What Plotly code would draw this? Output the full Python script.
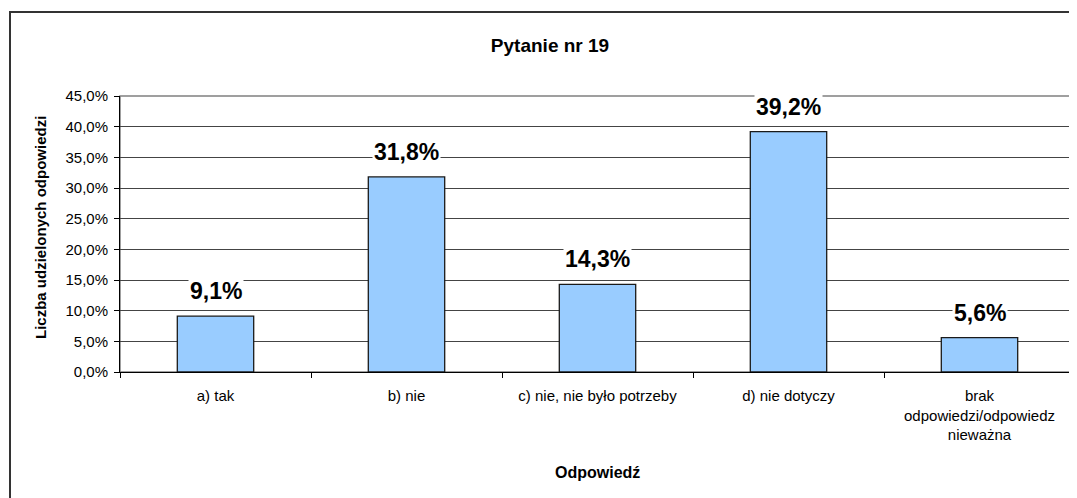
import plotly.graph_objects as go

categories = [
    "a) tak",
    "b) nie",
    "c) nie, nie było potrzeby",
    "d) nie dotyczy",
    "brak<br>odpowiedzi/odpowiedz<br>nieważna",
]
values = [0.091, 0.318, 0.143, 0.392, 0.056]

# the page puts the figure 8px in from the top-left corner
OFF = 8
W, H = 1077 - OFF, 498 - OFF
# plot area in page pixels
L, R, T, B = 120 - OFF, 1075 - OFF, 96 - OFF, 372 - OFF
pw, ph = R - L, B - T


def px_x(x):
    return (x - OFF - L) / pw


def px_y(y):
    return (B - (y - OFF)) / ph


FONT = "Arial, Liberation Sans"

fig = go.Figure()

fig.add_trace(
    go.Bar(
        x=categories,
        y=values,
        marker=dict(color="#99CCFF", line=dict(color="#1a1a1a", width=1.3)),
        showlegend=False,
        hoverinfo="skip",
    )
)

# data labels with white box, like the original
for c, v in zip(categories, values):
    fig.add_annotation(
        x=c, y=v, xref="x", yref="y",
        text=f"{v * 100:.1f}%".replace(".", ","),
        showarrow=False, yanchor="bottom", yshift=10,
        bgcolor="white", borderpad=1,
        font=dict(family=FONT, size=23, color="black", weight="bold"),
    )

fig.add_annotation(
    text="Liczba udzielonych odpowiedzi",
    xref="paper", yref="paper", x=px_x(40), y=px_y(228),
    textangle=-90, showarrow=False, xanchor="center", yanchor="middle",
    font=dict(family=FONT, size=15, color="black", weight="bold"),
)

fig.add_annotation(
    text="Odpowiedź",
    xref="paper", yref="paper", x=0.5, y=px_y(472),
    showarrow=False, xanchor="center", yanchor="middle",
    font=dict(family=FONT, size=16, color="black", weight="bold"),
)

# plot area frame (gray) and outer chart frame
fig.add_shape(type="rect", xref="paper", yref="paper", x0=0, x1=1, y0=0, y1=1,
              line=dict(color="#808080", width=1.5), layer="below")
fig.add_shape(type="rect", xref="paper", yref="paper",
              x0=px_x(10), x1=px_x(1095), y0=px_y(515), y1=px_y(12),
              line=dict(color="#333333", width=2))

fig.update_layout(
    width=W, height=H,
    margin=dict(l=L, r=W - R, t=T, b=H - B),
    paper_bgcolor="white", plot_bgcolor="white",
    separators=", ",
    bargap=0.6,
    font=dict(family=FONT, size=15, color="black"),
    title=dict(
        text="Pytanie nr 19", x=(550 - OFF) / W, xref="container", xanchor="center",
        y=1 - (45 - OFF) / H, yref="container", yanchor="middle",
        font=dict(family=FONT, size=19, color="black", weight="bold"),
    ),
)

fig.update_xaxes(
    type="category", tickson="boundaries", ticks="outside", ticklen=5,
    tickcolor="black", showline=True, linecolor="black", linewidth=1,
    showgrid=False, ticklabelstandoff=10,
    tickfont=dict(size=15),
)
fig.update_yaxes(
    range=[0, 0.45], dtick=0.05, tickformat=".1%",
    ticks="outside", ticklen=5, tickcolor="black",
    showline=True, linecolor="black", linewidth=1,
    showgrid=True, gridcolor="#444444", gridwidth=1,
    zeroline=False, tickfont=dict(size=15), ticklabelstandoff=3,
)

fig.write_html("out.html")
